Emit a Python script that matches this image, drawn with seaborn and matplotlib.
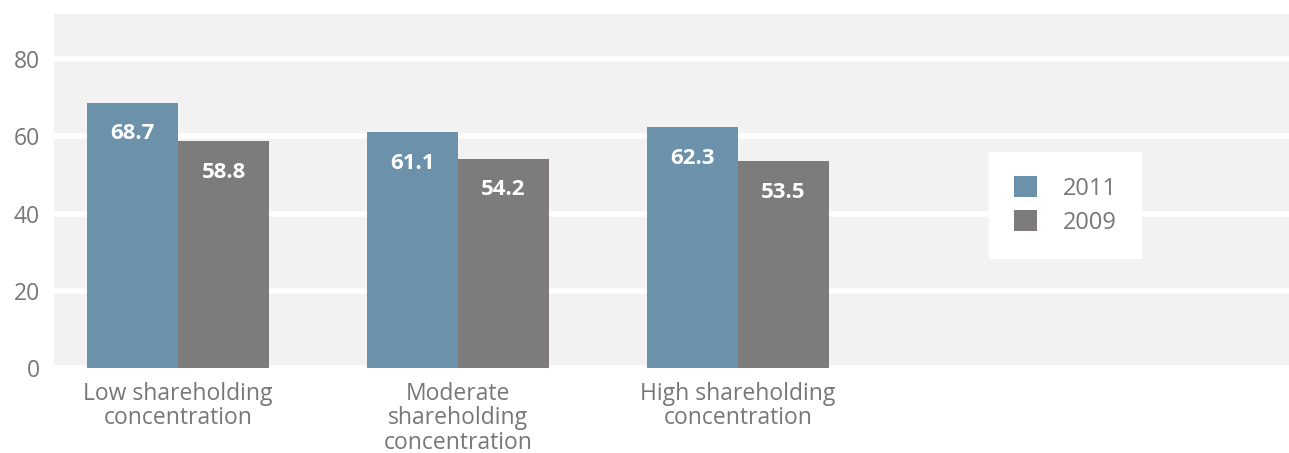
import pandas as pd
import seaborn as sns
import matplotlib.pyplot as plt

categories = ["Low shareholding\nconcentration",
              "Moderate\nshareholding\nconcentration",
              "High shareholding\nconcentration"]
years = ["2011", "2009"]
values_2011 = [68.7, 61.1, 62.3]
values_2009 = [58.8, 54.2, 53.5]

df = pd.DataFrame({
    "category": categories * 2,
    "year": [years[0]] * 3 + [years[1]] * 3,
    "value": values_2011 + values_2009,
})

sns.set_style("white")
plt.rcParams['font.family'] = ['Open Sans', 'DejaVu Sans']

fig = plt.figure(figsize=(12.89, 4.53), dpi=100)
ax = fig.add_axes([54 / 1289, 85 / 453, 1235 / 1289, 354 / 453])
ax.set_facecolor("#f2f2f2")

sns.barplot(data=df, x="category", y="value", hue="year",
            hue_order=years, order=categories,
            palette=["#6b91ab", "#7d7b7c"], linewidth=0,
            width=0.65, saturation=1, errorbar=None, ax=ax)

# value labels inside the top of each bar
for c in ax.containers:
    ax.bar_label(c, fmt="%.1f", padding=-30, color="white",
                 fontsize=16, fontweight="bold")

ax.set_ylim(0, 91.7)
ax.set_xlim(-0.443, 3.968)
ax.set_yticks([0, 20, 40, 60, 80])
ax.yaxis.grid(True, color="white", linewidth=4)
ax.set_axisbelow(True)
for s in ax.spines.values():
    s.set_visible(False)

ax.tick_params(axis="both", length=0, labelsize=16.5, labelcolor="#777777")
ax.tick_params(axis="y", pad=10)
ax.tick_params(axis="x", pad=10)
for t in ax.get_xticklabels():
    t.set_linespacing(1.02)
ax.set_xlabel("")
ax.set_ylabel("")

ax.legend(loc="center", bbox_to_anchor=(0.819, 0.459), frameon=True,
          fancybox=False, edgecolor="none", facecolor="white", framealpha=1,
          fontsize=17, labelcolor="#777777", borderpad=1.05,
          handlelength=0.95, handleheight=0.95, handletextpad=1.1,
          labelspacing=0.4, borderaxespad=0)

fig.savefig("out.png", dpi=100)
